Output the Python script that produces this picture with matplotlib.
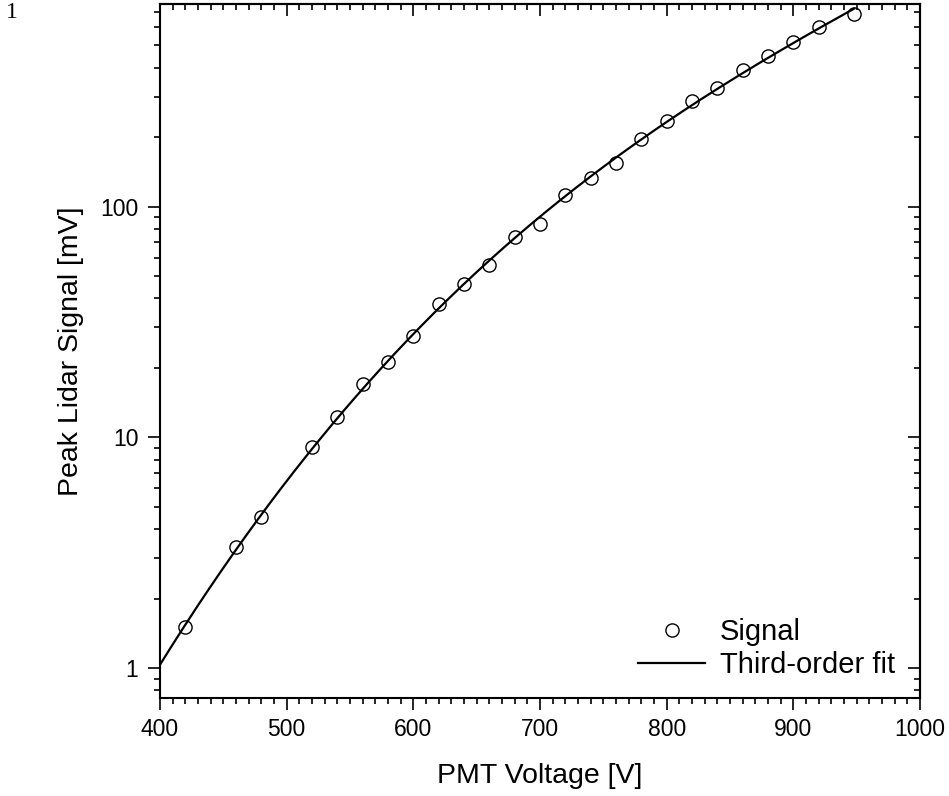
import numpy as np
import matplotlib
matplotlib.use("Agg")
import matplotlib.pyplot as plt
from matplotlib.ticker import MultipleLocator, LogLocator, NullFormatter, FuncFormatter

plt.rcParams['font.family'] = ['Liberation Sans', 'DejaVu Sans']

# Data
voltage = [420, 460, 480, 520, 540, 560, 580, 600, 620, 640, 660, 680, 700,
           720, 740, 760, 780, 800, 820, 840, 860, 880, 900, 920, 948]
signal = [1.50, 3.33, 4.52, 9.08, 12.2, 17.1, 21.3, 27.4, 37.9, 46.3, 56.1, 73.8, 84.4,
          112.8, 133, 154, 195.6, 235, 287, 328, 392, 452, 516, 600, 685]
fit_range = [400, 948]
x_ticks = [400, 500, 600, 700, 800, 900, 1000]
y_ticks = [1, 10, 100]
xlim = (400, 1000)
ylim = (0.741, 756)

# third-order polynomial fit (in log space)
coef = np.polyfit(np.array(voltage, float), np.log10(signal), 3)
xf = np.linspace(fit_range[0], fit_range[1], 400)
yf = 10 ** np.polyval(coef, xf)

fig = plt.figure(figsize=(9.49, 7.96), dpi=100)
ax = fig.add_axes([160/949, 1-698/796, (920-160)/949, (698-4)/796])

ax.plot(voltage, signal, linestyle='none', marker='o', markersize=9.5,
        markerfacecolor='none', markeredgecolor='black', markeredgewidth=1.0,
        label='Signal', zorder=3)
ax.plot(xf, yf, color='black', linewidth=1.6, label='Third-order fit', zorder=2)

ax.set_yscale('log')
ax.set_xlim(*xlim)
ax.set_ylim(*ylim)
ax.set_xticks(x_ticks)
ax.xaxis.set_minor_locator(MultipleLocator(10))
ax.set_yticks(y_ticks)
ax.yaxis.set_minor_locator(LogLocator(base=10, subs=np.arange(2, 10)))
ax.yaxis.set_major_formatter(FuncFormatter(lambda v, p: f"{v:g}"))
ax.yaxis.set_minor_formatter(NullFormatter())

for s in ax.spines.values():
    s.set_linewidth(1.5)

ax.tick_params(which='both', direction='out', width=1.2, labelsize=16.5)
ax.tick_params(axis='x', pad=6)
ax.tick_params(axis='y', pad=7)
ax.tick_params(which='major', length=8.5)
ax.tick_params(which='minor', length=4.5)

secx = ax.secondary_xaxis('top')
secx.set_xticks(x_ticks)
secx.xaxis.set_minor_locator(MultipleLocator(10))
secx.tick_params(which='both', direction='in', width=1.2, labeltop=False)
secx.tick_params(which='major', length=8.5)
secx.tick_params(which='minor', length=4.5)
secx.spines['top'].set_linewidth(1.5)

secy = ax.secondary_yaxis('right', functions=(lambda v: v, lambda v: v))
secy.set_yscale('log')
secy.set_yticks(y_ticks)
secy.yaxis.set_minor_locator(LogLocator(base=10, subs=np.arange(2, 10)))
secy.tick_params(which='both', direction='in', width=1.2, labelright=False)
secy.tick_params(which='major', length=8.5)
secy.tick_params(which='minor', length=4.5)
secy.spines['right'].set_linewidth(1.5)

ax.set_xlabel('PMT Voltage [V]', fontsize=20.5, labelpad=16)
ax.set_ylabel('Peak Lidar Signal [mV]', fontsize=20.5, labelpad=12)

ax.legend(loc='lower right', bbox_to_anchor=(1 + 4/760, -10/694), frameon=False,
          fontsize=21, handlelength=2.3, handletextpad=0.5, labelspacing=0.15,
          borderaxespad=0.6)

fig.text(12/949, 1-12/796, '1', family='Liberation Serif', fontsize=17,
         ha='center', va='center')

fig.savefig('out.png', dpi=100)
